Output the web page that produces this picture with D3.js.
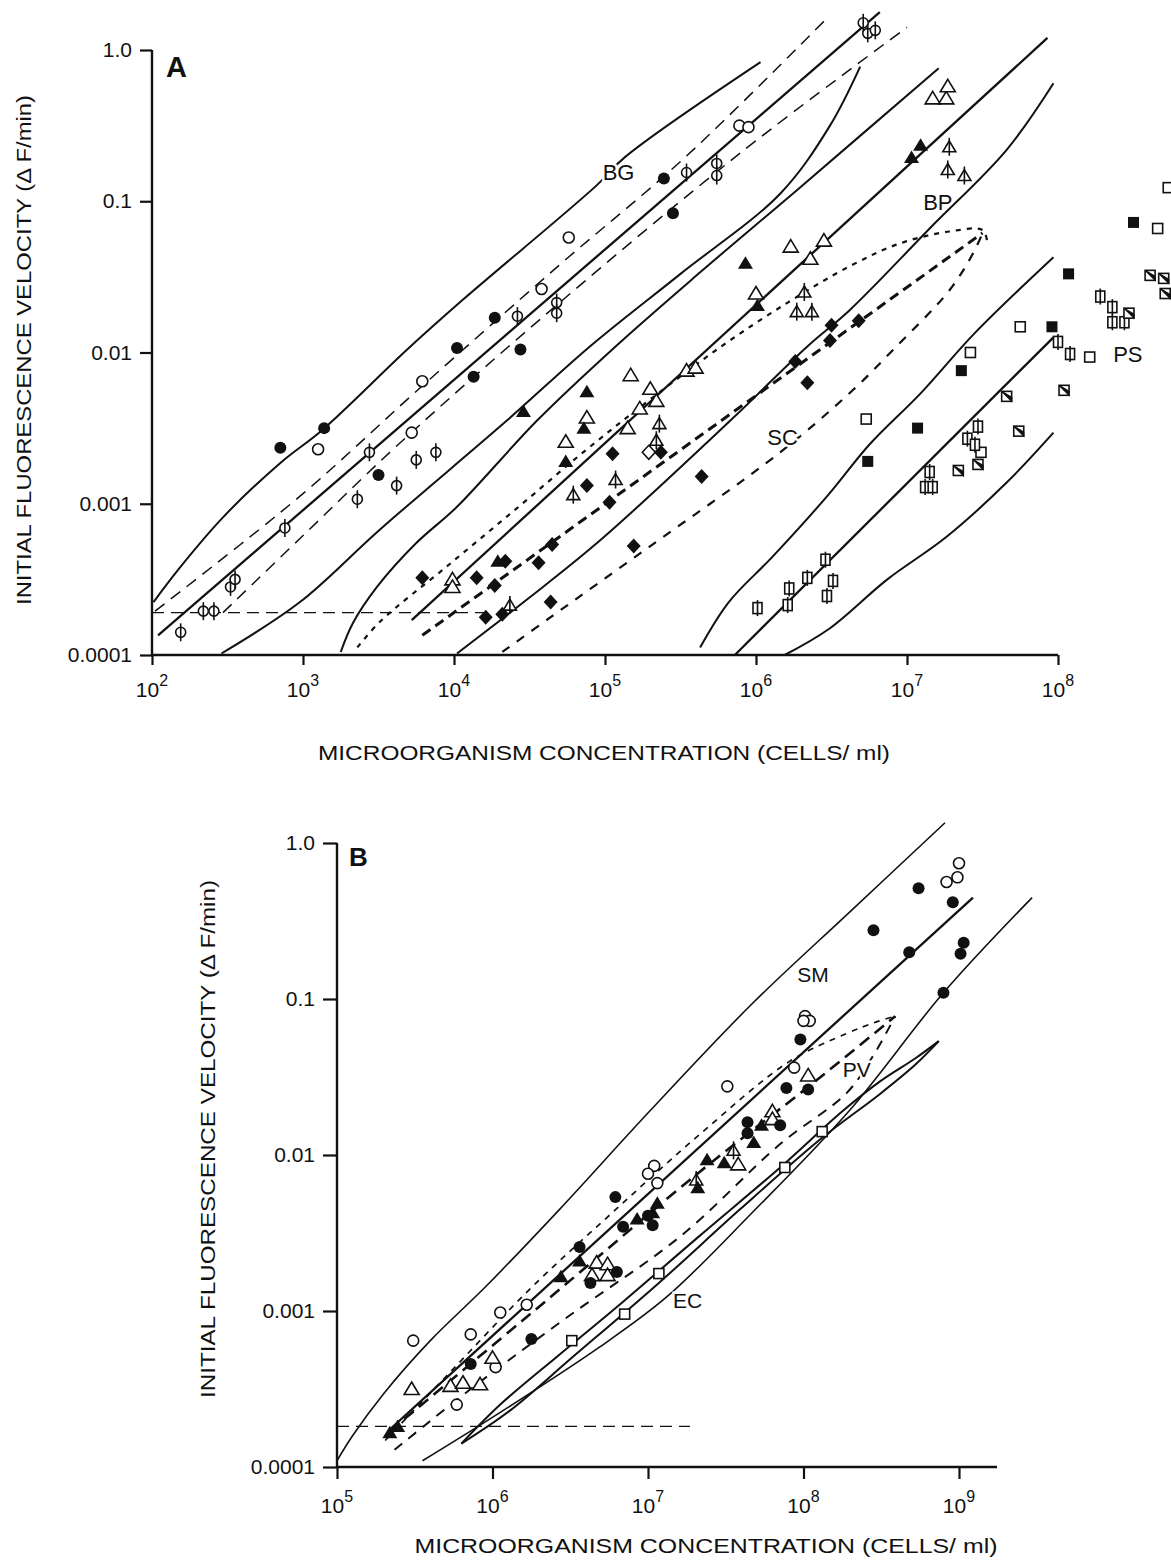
<!DOCTYPE html>
<html>
<head>
<meta charset="utf-8">
<script src="https://cdn.jsdelivr.net/npm/d3@7"></script>
<style>
  body { margin: 0; background: #fff; }
  text { font-family: "Liberation Sans", Arial, Helvetica, sans-serif; fill: #111; }
</style>
</head>
<body>
<div id="chart"></div>
<script>
// All values, stored as
// [log10(cells/ml), log10(dF/min)]

// ---- Panel A : fitted lines, confidence bands, prediction envelopes ----
var bgEnvUpper = [[2.01,-3.65],[2.17,-3.44],[2.47,-3.09],[2.85,-2.73],[3.13,-2.51],[3.69,-1.98],[4.06,-1.65],[4.95,-0.89],[5.13,-0.71],[6.03,-0.08]];
var bgBandUpper = [[2.02,-3.71],[2.98,-2.95],[3.78,-2.23],[4.70,-1.42],[5.53,-0.71],[6.45,0.19]];
var bgFit = [[2.04,-3.87],[6.82,0.25]];
var bgBandLower = [[2.47,-3.72],[2.98,-3.23],[3.64,-2.60],[4.70,-1.67],[5.91,-0.67],[7.00,0.15]];
var bgEnvLower = [[2.46,-3.99],[2.98,-3.65],[3.51,-3.17],[4.35,-2.45],[4.90,-1.96],[5.50,-1.48],[6.16,-0.95],[6.49,-0.50],[6.69,-0.11]];
var bpEnvUpper = [[3.25,-3.98],[3.33,-3.79],[3.49,-3.55],[3.75,-3.26],[4.02,-3.02],[4.55,-2.45],[5.07,-1.96],[5.63,-1.47],[6.29,-0.91],[7.21,-0.12]];
var bpFit = [[3.72,-3.77],[7.93,0.08]];
var bpEnvLower = [[4.02,-3.99],[4.50,-3.62],[4.97,-3.24],[5.83,-2.45],[6.34,-1.96],[6.62,-1.72],[7.15,-1.18],[7.66,-0.66],[7.97,-0.22]];
var scBandUpper = [[3.36,-3.95],[3.51,-3.78],[3.97,-3.40],[4.44,-3.01],[4.88,-2.64],[5.30,-2.31],[5.77,-1.96],[6.21,-1.67],[6.62,-1.43],[6.95,-1.28],[7.28,-1.20],[7.50,-1.19],[7.53,-1.26]];
var scFit = [[3.79,-3.87],[7.50,-1.21]];
var scBandLower = [[4.32,-3.98],[4.64,-3.75],[5.30,-3.28],[6.16,-2.66],[6.64,-2.25],[6.91,-1.98],[7.28,-1.59],[7.44,-1.34],[7.50,-1.21]];
var psEnvUpper = [[5.63,-3.95],[5.82,-3.65],[6.11,-3.35],[6.48,-2.94],[6.75,-2.61],[7.09,-2.27],[7.45,-1.87],[7.97,-1.37]];
var psFit = [[5.86,-4.00],[7.97,-1.90]];
var psEnvLower = [[6.19,-4.00],[6.48,-3.83],[6.87,-3.50],[7.26,-3.22],[7.66,-2.86],[7.97,-2.53]];
var limitA = [[2.0,-3.72],[4.21,-3.72]];

// ---- Panel A : data points by symbol ----
var aDot = [[2.85,-2.63],[3.14,-2.50],[3.50,-2.81],[4.02,-1.97],[4.13,-2.16],[4.27,-1.77],[4.44,-1.98],[5.39,-0.85],[5.45,-1.08]];
var aRing = [[3.10,-2.64],[3.72,-2.53],[3.79,-2.19],[4.58,-1.58],[4.76,-1.24],[5.89,-0.50],[5.95,-0.51]];
var aRingBar = [[2.19,-3.85],[2.34,-3.71],[2.41,-3.71],[2.52,-3.55],[2.55,-3.50],[2.88,-3.16],[3.36,-2.97],[3.44,-2.66],[3.62,-2.88],[3.75,-2.71],[3.88,-2.66],[4.42,-1.76],[4.68,-1.67],[4.68,-1.74],[5.54,-0.81],[5.74,-0.75],[5.74,-0.83],[6.71,0.18],[6.74,0.11],[6.79,0.13]];
var aTri = [[4.46,-2.39],[4.88,-2.26],[4.86,-2.50],[4.74,-2.72],[5.93,-1.41],[6.01,-1.69],[7.09,-0.63],[7.03,-0.71],[4.29,-3.38]];
var aTriOpen = [[4.74,-2.59],[4.88,-2.43],[3.99,-3.50],[3.99,-3.55],[5.17,-2.15],[5.30,-2.24],[5.34,-2.32],[5.23,-2.37],[5.15,-2.50],[5.54,-2.12],[5.60,-2.10],[6.00,-1.61],[6.23,-1.30],[6.45,-1.26],[6.36,-1.38],[7.17,-0.32],[7.26,-0.32],[7.27,-0.24]];
var aTriBar = [[4.79,-2.94],[5.07,-2.84],[5.34,-2.58],[5.36,-2.47],[4.37,-3.67],[6.27,-1.73],[6.37,-1.73],[6.32,-1.60],[7.28,-0.64],[7.27,-0.79],[7.38,-0.83]];
var aDiamond = [[3.79,-3.49],[4.15,-3.49],[4.27,-3.54],[4.34,-3.38],[4.56,-3.39],[4.65,-3.27],[4.21,-3.75],[4.32,-3.73],[4.64,-3.65],[4.88,-2.88],[5.05,-2.67],[5.37,-2.66],[5.03,-2.99],[5.19,-3.28],[5.64,-2.82],[6.26,-2.06],[6.34,-2.20],[6.50,-1.82],[6.68,-1.79],[6.49,-1.92]];
var aDiamondOpen = [[5.29,-2.66]];
var aSquare = [[6.74,-2.72],[7.07,-2.50],[7.36,-2.12],[7.96,-1.83],[8.07,-1.48],[8.50,-1.14]];
var aSquareOpen = [[6.73,-2.44],[7.42,-2.00],[7.75,-1.83],[8.21,-2.03],[7.49,-2.66],[8.66,-1.18],[8.73,-0.91]];
var aSquareBar = [[6.01,-3.69],[6.21,-3.67],[6.22,-3.56],[6.34,-3.49],[6.46,-3.37],[6.51,-3.51],[6.47,-3.61],[7.12,-2.89],[7.17,-2.89],[7.15,-2.79],[7.40,-2.57],[7.45,-2.61],[7.47,-2.49],[8.00,-1.93],[8.08,-2.01],[8.28,-1.63],[8.36,-1.70],[8.36,-1.80],[8.44,-1.80]];
var aSquareDiag = [[7.34,-2.78],[7.47,-2.74],[7.74,-2.52],[7.66,-2.29],[8.04,-2.25],[8.47,-1.74],[8.61,-1.49],[8.70,-1.51],[8.71,-1.61]];

// ---- Panel B : lines ----
var smEnvUpper = [[5.00,-3.96],[5.10,-3.80],[5.30,-3.53],[5.60,-3.19],[5.96,-2.84],[6.43,-2.35],[7.01,-1.72],[7.66,-1.04],[8.30,-0.44],[8.91,0.13]];
var smFit = [[5.35,-3.75],[9.09,-0.35]];
var smEnvLower = [[5.55,-3.96],[6.05,-3.65],[6.69,-3.23],[7.12,-2.91],[7.66,-2.38],[8.30,-1.71],[8.90,-0.96],[9.47,-0.35]];
var pvBandUpper = [[5.31,-3.83],[5.73,-3.39],[6.24,-2.86],[6.77,-2.37],[7.33,-1.87],[7.91,-1.40],[8.28,-1.22],[8.46,-1.15],[8.59,-1.11]];
var pvFit = [[5.34,-3.77],[6.35,-2.93],[7.33,-2.11],[8.06,-1.54],[8.59,-1.11]];
var pvBandLower = [[5.37,-3.89],[5.86,-3.50],[6.48,-3.04],[7.21,-2.52],[7.85,-1.93],[8.28,-1.60],[8.45,-1.36],[8.59,-1.11]];
var ecUpper = [[5.80,-3.85],[6.05,-3.60],[6.43,-3.28],[6.84,-2.94],[7.33,-2.52],[7.85,-2.08],[8.25,-1.72],[8.49,-1.53],[8.72,-1.38],[8.87,-1.27]];
var ecLower = [[5.80,-3.85],[6.11,-3.64],[6.51,-3.30],[7.07,-2.82],[7.59,-2.35],[8.12,-1.89],[8.49,-1.61],[8.72,-1.42],[8.87,-1.27]];
var limitB = [[5.0,-3.74],[7.27,-3.74]];

// ---- Panel B : data points ----
var bRing = [[9.00,-0.13],[8.99,-0.22],[8.92,-0.25],[8.01,-1.11],[8.04,-1.14],[8.00,-1.14],[7.94,-1.44],[7.51,-1.56],[7.04,-2.07],[7.00,-2.12],[7.06,-2.18],[6.22,-2.96],[6.05,-3.01],[5.86,-3.15],[5.49,-3.19],[6.02,-3.36],[5.77,-3.60]];
var bDot = [[8.74,-0.29],[8.96,-0.38],[8.45,-0.56],[8.68,-0.70],[9.03,-0.64],[9.01,-0.71],[8.90,-0.96],[7.98,-1.26],[7.89,-1.57],[8.03,-1.58],[7.64,-1.79],[7.85,-1.81],[7.64,-1.86],[6.79,-2.27],[6.84,-2.46],[7.00,-2.39],[7.03,-2.45],[6.56,-2.59],[6.63,-2.82],[6.80,-2.75],[6.25,-3.18],[5.86,-3.34]];
var bTri = [[7.73,-1.81],[7.68,-1.92],[7.49,-2.05],[7.38,-2.03],[7.32,-2.21],[7.06,-2.31],[6.93,-2.41],[7.03,-2.37],[6.56,-2.68],[6.44,-2.78],[5.39,-3.74],[5.34,-3.78]];
var bTriOpen = [[8.03,-1.49],[7.80,-1.72],[7.80,-1.77],[7.58,-2.06],[6.67,-2.69],[6.74,-2.70],[6.64,-2.77],[6.74,-2.77],[6.00,-3.30],[5.48,-3.50],[5.73,-3.48],[5.81,-3.46],[5.92,-3.47]];
var bTriBar = [[7.55,-1.97],[7.31,-2.16]];
var bSquareOpen = [[8.12,-1.85],[7.88,-2.08],[7.07,-2.76],[6.85,-3.02],[6.51,-3.19]];

// tick labels
var yTickValues = [1e-4, 1e-3, 1e-2, 1e-1, 1];
var yTickLabels = ["0.0001", "0.001", "0.01", "0.1", "1.0"];
var xTicksA = [1e2, 1e3, 1e4, 1e5, 1e6, 1e7, 1e8];
var xTicksB = [1e5, 1e6, 1e7, 1e8, 1e9];

var svgWidth = 1171;
var svgHeight = 1567;
var ink = "#111";

var svg = d3.select("#chart")
  .append("svg")
  .attr("width", svgWidth)
  .attr("height", svgHeight);

svg.append("rect").attr("width", svgWidth).attr("height", svgHeight).attr("fill", "#fff");

// Scales for both panels
var xA = d3.scaleLog().domain([1e2, 1e8]).range([152, 1058]);
var yA = d3.scaleLog().domain([1e-4, 1]).range([655, 50]);
var xB = d3.scaleLog().domain([1e5, 1e9]).range([337, 959]);
var yB = d3.scaleLog().domain([1e-4, 1]).range([1467, 843]);

// line styles
var styles = {
  fit:       { w: 2.3, dash: null },
  env:       { w: 2.0, dash: null },
  thin:      { w: 1.6, dash: null },
  band:      { w: 1.5, dash: "12,8" },
  boldDash:  { w: 3.0, dash: "10,6" },
  shortDash: { w: 2.2, dash: "5,6" },
  medDash:   { w: 2.2, dash: "9,9" },
  pvDot:     { w: 1.7, dash: "6,6" },
  pvFit:     { w: 2.6, dash: "12,7" },
  pvLow:     { w: 2.0, dash: "10,8" },
  limit:     { w: 1.3, dash: "12,7" }
};

var curvesA = [
  { pts: bgEnvUpper, s: "env" }, { pts: bgBandUpper, s: "band" }, { pts: bgFit, s: "fit" },
  { pts: bgBandLower, s: "band" }, { pts: bgEnvLower, s: "env" },
  { pts: bpEnvUpper, s: "env" }, { pts: bpFit, s: "fit" }, { pts: bpEnvLower, s: "env" },
  { pts: scBandUpper, s: "shortDash" }, { pts: scFit, s: "boldDash" }, { pts: scBandLower, s: "medDash" },
  { pts: psEnvUpper, s: "env" }, { pts: psFit, s: "fit" }, { pts: psEnvLower, s: "env" },
  { pts: limitA, s: "limit" }
];

var curvesB = [
  { pts: smEnvUpper, s: "thin" }, { pts: smFit, s: "fit" }, { pts: smEnvLower, s: "thin" },
  { pts: pvBandUpper, s: "pvDot" }, { pts: pvFit, s: "pvFit" }, { pts: pvBandLower, s: "pvLow" },
  { pts: ecUpper, s: "env" }, { pts: ecLower, s: "env" },
  { pts: limitB, s: "limit" }
];

var pointsA = [
  { pts: aRingBar, shape: "ringBar" }, { pts: aRing, shape: "ring" }, { pts: aDot, shape: "dot" },
  { pts: aTriOpen, shape: "triOpen" }, { pts: aTriBar, shape: "triBar" }, { pts: aTri, shape: "tri" },
  { pts: aDiamondOpen, shape: "diamondOpen" }, { pts: aDiamond, shape: "diamond" },
  { pts: aSquareOpen, shape: "squareOpen" }, { pts: aSquareBar, shape: "squareBar" },
  { pts: aSquareDiag, shape: "squareDiag" }, { pts: aSquare, shape: "square" }
];

var pointsB = [
  { pts: bRing, shape: "ring" }, { pts: bTriOpen, shape: "triOpen" }, { pts: bTriBar, shape: "triBar" },
  { pts: bSquareOpen, shape: "squareOpen" }, { pts: bDot, shape: "dot" }, { pts: bTri, shape: "tri" }
];

function drawMarker(g, shape, px, py) {
  var m = g.append("g").attr("transform", `translate(${px},${py})`);
  var open = { fill: "#fff", stroke: ink, "stroke-width": 1.6 };
  function setAll(sel, o) { for (var k in o) sel.attr(k, o[k]); return sel; }
  if (shape == "dot") {
    m.append("circle").attr("r", 6).attr("fill", ink);
  } else if (shape == "ring") {
    setAll(m.append("circle").attr("r", 5.5), open);
  } else if (shape == "ringBar") {
    setAll(m.append("circle").attr("r", 5), open);
    m.append("line").attr("y1", -9).attr("y2", 9).attr("stroke", ink).attr("stroke-width", 1.6);
  } else if (shape == "tri") {
    m.append("path").attr("d", "M0,-7L7.5,5.5L-7.5,5.5Z").attr("fill", ink);
  } else if (shape == "triOpen") {
    setAll(m.append("path").attr("d", "M0,-7L7.5,5.5L-7.5,5.5Z"), open);
  } else if (shape == "triBar") {
    setAll(m.append("path").attr("d", "M0,-6L6.5,5L-6.5,5Z"), open);
    m.append("line").attr("y1", -9).attr("y2", 9).attr("stroke", ink).attr("stroke-width", 1.6);
  } else if (shape == "diamond") {
    m.append("path").attr("d", "M0,-7.5L7,0L0,7.5L-7,0Z").attr("fill", ink);
  } else if (shape == "diamondOpen") {
    setAll(m.append("path").attr("d", "M0,-7L6.5,0L0,7L-6.5,0Z"), open);
  } else if (shape == "square") {
    m.append("rect").attr("x", -5.5).attr("y", -5.5).attr("width", 11).attr("height", 11).attr("fill", ink);
  } else if (shape == "squareOpen") {
    setAll(m.append("rect").attr("x", -5).attr("y", -5).attr("width", 10).attr("height", 10), open);
  } else if (shape == "squareBar") {
    setAll(m.append("rect").attr("x", -4.5).attr("y", -5.5).attr("width", 9).attr("height", 11), open);
    m.append("line").attr("y1", -8).attr("y2", 8).attr("stroke", ink).attr("stroke-width", 1.6);
  } else if (shape == "squareDiag") {
    setAll(m.append("rect").attr("x", -5).attr("y", -5).attr("width", 10).attr("height", 10), open);
    m.append("path").attr("d", "M-5,-5L5,5L5,1Z").attr("fill", ink).attr("stroke", ink).attr("stroke-width", 1.2);
  }
}

function drawPanel(x, y, curves, points) {
  var g = svg.append("g");
  var line = d3.line()
    .x(d => x(Math.pow(10, d[0])))
    .y(d => y(Math.pow(10, d[1])))
    .curve(d3.curveCatmullRom.alpha(0.5));

  curves.forEach(function(c) {
    var st = styles[c.s];
    g.append("path")
      .attr("d", line(c.pts))
      .attr("fill", "none")
      .attr("stroke", ink)
      .attr("stroke-width", st.w)
      .attr("stroke-dasharray", st.dash)
      .attr("stroke-linecap", "butt");
  });

  points.forEach(function(p) {
    p.pts.forEach(function(d) {
      drawMarker(g, p.shape, x(Math.pow(10, d[0])), y(Math.pow(10, d[1])));
    });
  });
  return g;
}

function drawAxes(x, y, x0, x1, y0, y1, xTicks, xTickLen, yTickLen, xLabelDrop) {
  var g = svg.append("g");
  var leftAxis = d3.axisLeft(y).tickValues(yTickValues)
    .tickFormat((d, i) => yTickLabels[i]).tickSize(yTickLen).tickSizeOuter(0).tickPadding(8);
  var bottomAxis = d3.axisBottom(x).tickValues(xTicks).tickFormat("")
    .tickSize(xTickLen).tickSizeOuter(0);

  var ya = g.append("g").attr("transform", `translate(${x0},0)`).call(leftAxis);
  var xa = g.append("g").attr("transform", `translate(0,${y0})`).call(bottomAxis);
  g.selectAll(".domain").remove();
  g.selectAll(".tick line").attr("stroke", ink).attr("stroke-width", 2.2);
  ya.selectAll("text").attr("font-size", 21).attr("font-family", "'Liberation Sans', Arial, sans-serif").attr("fill", ink);

  // axis lines
  g.append("line").attr("x1", x0).attr("x2", x0).attr("y1", y1).attr("y2", y0)
    .attr("stroke", ink).attr("stroke-width", 2.4);
  g.append("line").attr("x1", x0).attr("x2", x1).attr("y1", y0).attr("y2", y0)
    .attr("stroke", ink).attr("stroke-width", 2.4);

  // powers of ten under the bottom axis
  xTicks.forEach(function(v) {
    var t = g.append("text")
      .attr("x", x(v))
      .attr("y", y0 + xLabelDrop)
      .attr("text-anchor", "middle")
      .attr("font-size", 21);
    t.append("tspan").text("10");
    t.append("tspan").attr("dy", -11).attr("font-size", 16).text(Math.round(Math.log10(v)));
  });
}

// Panel A
drawPanel(xA, yA, curvesA, pointsA);
drawAxes(xA, yA, 152, 1058, 655, 50, xTicksA, 10, 12, 42);

// Panel B
drawPanel(xB, yB, curvesB, pointsB);
drawAxes(xB, yB, 337, 997, 1467, 843, xTicksB, 12, 14, 46);

// group labels (white halo so the lines break around them)
function groupLabel(x, y, vx, vy, txt, size) {
  svg.append("text")
    .attr("x", x(vx)).attr("y", y(vy))
    .attr("text-anchor", "middle")
    .attr("font-size", size)
    .attr("stroke", "#fff").attr("stroke-width", 5)
    .attr("paint-order", "stroke")
    .text(txt);
}
groupLabel(xA, yA, 1.23e5, 0.138, "BG", 22);
groupLabel(xA, yA, 1.6e7, 0.0877, "BP", 22);
groupLabel(xA, yA, 1.5e6, 0.00245, "SC", 22);
groupLabel(xA, yA, 2.9e8, 0.0087, "PS", 22);
groupLabel(xB, yB, 1.15e8, 0.129, "SM", 21);
groupLabel(xB, yB, 2.2e8, 0.0316, "PV", 21);
groupLabel(xB, yB, 1.8e7, 0.00105, "EC", 21);

// panel letters
svg.append("text").attr("x", 166).attr("y", 77).attr("font-size", 29).attr("font-weight", "bold").text("A");
svg.append("text").attr("x", 349).attr("y", 866).attr("font-size", 26).attr("font-weight", "bold").text("B");

// axis titles
var yTitle = "INITIAL FLUORESCENCE VELOCITY (\u0394 F/min)";
var xTitle = "MICROORGANISM CONCENTRATION (CELLS/ ml)";

svg.append("text")
  .attr("transform", "translate(31,350) rotate(-90)")
  .attr("text-anchor", "middle")
  .attr("font-size", 21)
  .attr("textLength", 510).attr("lengthAdjust", "spacingAndGlyphs")
  .text(yTitle);

svg.append("text")
  .attr("x", 604).attr("y", 760)
  .attr("text-anchor", "middle")
  .attr("font-size", 21)
  .attr("textLength", 572).attr("lengthAdjust", "spacingAndGlyphs")
  .text(xTitle);

svg.append("text")
  .attr("transform", "translate(215,1139) rotate(-90)")
  .attr("text-anchor", "middle")
  .attr("font-size", 21)
  .attr("textLength", 518).attr("lengthAdjust", "spacingAndGlyphs")
  .text(yTitle);

svg.append("text")
  .attr("x", 706).attr("y", 1553)
  .attr("text-anchor", "middle")
  .attr("font-size", 21)
  .attr("textLength", 583).attr("lengthAdjust", "spacingAndGlyphs")
  .text(xTitle);
</script>
</body>
</html>
